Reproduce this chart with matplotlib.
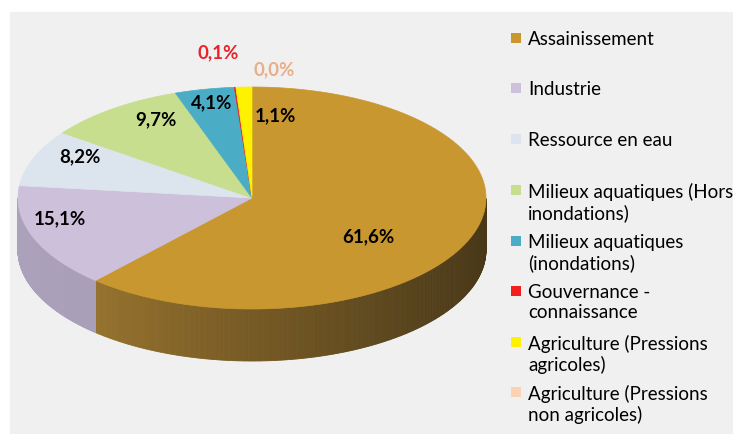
import numpy as np
import matplotlib.pyplot as plt
from matplotlib.patches import Polygon, Rectangle
from matplotlib.colors import to_rgb

# données (parts en %)
categories = ['Assainissement', 'Industrie', 'Ressource en eau',
              'Milieux aquatiques (Hors\ninondations)',
              'Milieux aquatiques\n(inondations)',
              'Gouvernance -\nconnaissance',
              'Agriculture (Pressions\nagricoles)',
              'Agriculture (Pressions\nnon agricoles)']
values = [61.6, 15.1, 8.2, 9.7, 4.1, 0.1, 1.1, 0.0]
labels = ['61,6%', '15,1%', '8,2%', '9,7%', '4,1%', '0,1%', '1,1%', '0,0%']
colors = ['#C9972F', '#CCC0DA', '#DCE4EE', '#C6DE8E', '#4BACC6',
          '#F21F1F', '#FFF200', '#FBD3B4']
label_colors = ['black'] * 5 + ['#E8232A', 'black', '#E8AE8A']
label_pos = [(368, 237), (60, 219), (80, 157), (156, 120), (212, 103),
             (218, 53), (275, 116), (274, 70)]

plt.rcParams['font.family'] = ['Lato', 'DejaVu Sans']

fig = plt.figure(figsize=(7.33, 4.35), dpi=100)
ax = fig.add_axes([0, 0, 1, 1])
ax.set_xlim(0, 733)
ax.set_ylim(435, 0)
ax.axis('off')

# fond gris du graphique
ax.add_patch(Rectangle((10, 13), 723, 422, color='#F0F0F0', zorder=0))

# géométrie du camembert 3D
cx, cy = 252, 199
a, b = 234, 111
depth = 52


def pt(t):
    return cx + a * np.cos(t), cy - b * np.sin(t)


# angles : départ à 12h, sens horaire
fracs = np.array(values) / sum(values)
starts = np.pi / 2 - 2 * np.pi * np.concatenate([[0], np.cumsum(fracs)[:-1]])
ends = starts - 2 * np.pi * fracs

side_dark = [('#A47D31', '#493818'), ('#ABA1BA', '#9C92AE')]

# faces latérales (moitié avant)
for i in range(len(values)):
    t0, t1 = ends[i], starts[i]
    ts = np.linspace(t0, t1, 400)
    for k in range(len(ts) - 1):
        tm = (ts[k] + ts[k + 1]) / 2
        if np.sin(tm) > 0:
            continue
        x0, y0 = pt(ts[k])
        x1, y1 = pt(ts[k + 1])
        c_left, c_right = side_dark[i] if i < 2 else (colors[i], colors[i])
        f = (np.cos(tm) + 1) / 2
        c = (1 - f) * np.array(to_rgb(c_left)) + f * np.array(to_rgb(c_right))
        ax.add_patch(Polygon([(x0, y0), (x1, y1), (x1, y1 + depth), (x0, y0 + depth)],
                             closed=True, facecolor=c, edgecolor=c, lw=0.6, zorder=2))

# faces supérieures
for i in range(len(values)):
    if fracs[i] == 0:
        continue
    ts = np.linspace(starts[i], ends[i], 200)
    xs, ys = pt(ts)
    verts = [(cx, cy)] + list(zip(xs, ys))
    ax.add_patch(Polygon(verts, closed=True, facecolor=colors[i],
                         edgecolor=colors[i], lw=0.5, zorder=3))

# étiquettes
for lab, (x, y), c in zip(labels, label_pos, label_colors):
    ax.text(x, y, lab, ha='center', va='center', fontsize=13.5,
            fontweight='bold', color=c, zorder=5)

# légende
leg_y = [39, 89, 140, 191, 242, 292, 343, 393]
for cat, c, y in zip(categories, colors, leg_y):
    ax.add_patch(Rectangle((511, y - 5), 10, 10, facecolor=c, edgecolor='none', zorder=4))
    ax.text(528, y - 8, cat, ha='left', va='top', fontsize=13.5,
            color='black', linespacing=1.2, zorder=5)

plt.savefig('out.png', dpi=100)
